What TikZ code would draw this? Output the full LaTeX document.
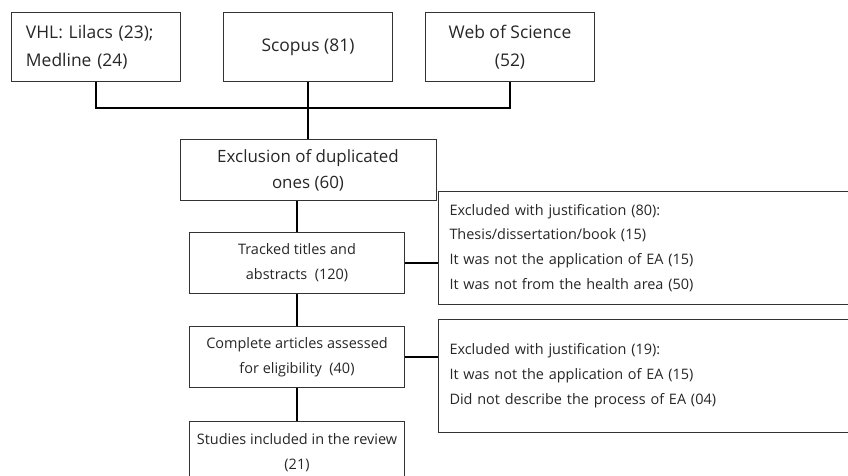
\documentclass[tikz,border=0pt]{standalone}
\usepackage{fontspec}
\setmainfont{Open Sans}
\usepackage{xcolor}
\usetikzlibrary{positioning, calc}

\begin{document}
\begin{tikzpicture}[
  x=1bp, y=-1bp,
  every node/.style={font=\fontsize{14.5}{25}\selectfont, text=black!85},
  box/.style={draw=black!80, line width=1bp, align=center, inner sep=0pt},
  src/.style={box, minimum width=169bp, minimum height=69bp, font=\fontsize{17.5}{28}\selectfont},
  stage/.style={box, minimum width=215bp, minimum height=61bp},
  note/.style={draw=black!80, line width=1bp, anchor=north west, align=left,
    text width=440bp, inner xsep=11bp, inner ysep=0pt, minimum height=113bp},
  conn/.style={line width=2bp, black}
]
\useasboundingbox (0,0) rectangle (848,476);
\clip (0,0) rectangle (848,476);

% ---------- Sources ----------
\node[src, align=left, text width=140bp] (vhl) at (96,47.5) {VHL: Lilacs (23);\\Medline (24)};
\node[src] (scopus) at (308,47.5) {Scopus (81)};
\node[src] (wos) at (510,47.5) {Web of Science\\(52)};

% ---------- Screening stages ----------
\node[box, minimum width=256bp, minimum height=61bp, font=\fontsize{17}{26}\selectfont]
  (excl) at (308,170.5) {Exclusion of duplicated\\ones (60)};
\node[stage] (track) at (297,263) {Tracked titles and\\abstracts\ \ (120)};
\node[stage, minimum height=60bp] (compl) at (297,357) {Complete articles assessed\\for eligibility\ \ (40)};
\node[stage, minimum height=64bp] (study) at (297,453) {Studies included in the review\\(21)};

% ---------- Exclusion notes ----------
\node[note] (exc1) at (438,191) {Excluded with justification (80):\\Thesis/dissertation/book (15)\\It was not the application of EA (15)\\It was not from the health area (50)};
\node[note] (exc2) at (438,319) {Excluded with justification (19):\\It was not the application of EA (15)\\Did not describe the process of EA (04)};

% ---------- Connectors ----------
\coordinate (join) at (308,108);
\draw[conn] (vhl.south) |- (join) -| (wos.south);
\draw[conn] (scopus.south) -- (excl.north);
\draw[conn] (track.north |- excl.south) -- (track.north);
\draw[conn] (track.south) -- (compl.north);
\draw[conn] (compl.south) -- (study.north);
\draw[conn] (track.east) -- (track.east -| exc1.west);
\draw[conn] (compl.east) -- (compl.east -| exc2.west);

\end{tikzpicture}
\end{document}
